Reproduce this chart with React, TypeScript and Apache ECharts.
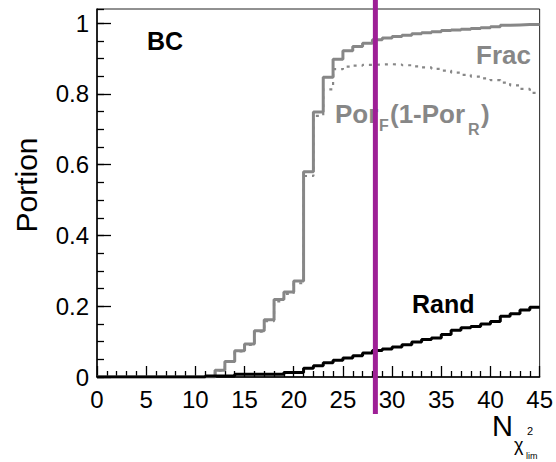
import React, { useEffect, useRef } from "react";
import * as echarts from "echarts";

// Bins are [i, i+1], i = 0..44
const BIN_COUNT = 45;
const X_MIN = 0;
const X_MAX = 45;
const Y_MIN = 0;
const Y_MAX = 1.04;
const X_TICK_STEP = 5;
const Y_TICK_STEP = 0.2;
const CUT_X = 28.3;

// "Frac" (grey solid histogram)
const fracValues = [
  0, 0, 0, 0, 0, 0, 0, 0, 0, 0, 0, 0,
  0.019, 0.044, 0.074, 0.093, 0.131, 0.162, 0.219, 0.24, 0.271,
  0.58, 0.749, 0.847, 0.898, 0.922, 0.934, 0.943, 0.953, 0.958,
  0.962, 0.966, 0.97, 0.973, 0.976, 0.979, 0.981, 0.983, 0.985,
  0.987, 0.99, 0.994, 0.995, 0.996, 0.996,
];

// "Por_F(1-Por_R)" (grey dotted histogram)
const porValues = [
  0, 0, 0, 0, 0, 0, 0, 0, 0, 0, 0, 0,
  0.018, 0.043, 0.072, 0.091, 0.128, 0.158, 0.214, 0.235, 0.265,
  0.568, 0.738, 0.813, 0.87, 0.877, 0.88, 0.882, 0.883, 0.884,
  0.883, 0.881, 0.878, 0.875, 0.871, 0.866, 0.86, 0.854, 0.849,
  0.844, 0.839, 0.832, 0.824, 0.814, 0.803,
];

// "Rand" (black histogram)
const randValues = [
  0, 0, 0, 0, 0, 0, 0, 0, 0, 0, 0,
  0.003, 0.003, 0.003, 0.008, 0.008, 0.008, 0.008, 0.008, 0.013, 0.013,
  0.025, 0.032, 0.04, 0.047, 0.054, 0.06, 0.068, 0.075, 0.079,
  0.085, 0.091, 0.099, 0.106, 0.11, 0.12, 0.132, 0.139, 0.143,
  0.15, 0.157, 0.172, 0.179, 0.189, 0.197,
];

const GREY = "#878787";
const MAGENTA = "#9e1f96";
const FONT = "'Liberation Sans', Arial, Helvetica, sans-serif";

function toSteps(values: number[]): number[][] {
  const pts = values.slice(0, BIN_COUNT).map((v, i) => [i, v]);
  pts.push([BIN_COUNT, values[BIN_COUNT - 1]]);
  return pts;
}

function txt(text: string, x: number, y: number, font: string, fill: string, extra: any = {}) {
  return {
    type: "text",
    x,
    y,
    z: 50,
    ...extra,
    style: { text, fill, font, textVerticalAlign: "middle", ...(extra.style || {}) },
  };
}

export default function App() {
  const ref = useRef<HTMLDivElement>(null);

  useEffect(() => {
    if (!ref.current) return;
    const chart = echarts.init(ref.current, null, { renderer: "svg" });

    const commonY = {
      type: "value" as const,
      min: Y_MIN,
      max: Y_MAX,
      position: "left" as const,
      splitLine: { show: false },
    };

    chart.setOption({
      animation: false,
      backgroundColor: "#ffffff",
      grid: {
        left: 97,
        right: 13,
        top: 9,
        bottom: 85,
        show: true,
        borderColor: "#222",
        borderWidth: 1,
        backgroundColor: "transparent",
      },
      xAxis: {
        type: "value",
        min: X_MIN,
        max: X_MAX,
        interval: X_TICK_STEP,
        axisLine: { show: true, onZero: false, lineStyle: { color: "#000", width: 1.5 } },
        axisTick: { show: true, inside: true, length: 11, lineStyle: { color: "#000", width: 1.3 } },
        minorTick: { show: true, splitNumber: 5, length: 6, lineStyle: { color: "#000", width: 1.3 } },
        axisLabel: { color: "#000", fontSize: 24, fontFamily: FONT, margin: 10 },
        splitLine: { show: false },
        minorSplitLine: { show: false },
      },
      yAxis: [
        {
          ...commonY,
          interval: Y_TICK_STEP,
          axisLine: { show: true, lineStyle: { color: "#000", width: 1.5 } },
          axisTick: { show: true, inside: true, length: 14, lineStyle: { color: "#000", width: 1.3 } },
          axisLabel: {
            color: "#000",
            fontSize: 24,
            fontFamily: FONT,
            margin: 8,
            showMaxLabel: false,
          },
        },
        {
          ...commonY,
          interval: 0.05,
          axisLine: { show: false },
          axisTick: { show: true, inside: true, length: 7, lineStyle: { color: "#000", width: 1.3 } },
          axisLabel: { show: false },
        },
      ],
      series: [
        {
          type: "line",
          name: "PorF(1-PorR)",
          step: "end",
          data: toSteps(porValues),
          symbol: "none",
          lineStyle: { color: GREY, width: 2.2, type: [3, 5] },
          z: 2,
        },
        {
          type: "line",
          name: "Frac",
          step: "end",
          data: toSteps(fracValues),
          symbol: "none",
          lineStyle: { color: GREY, width: 3 },
          z: 3,
        },
        {
          type: "line",
          name: "Rand",
          step: "end",
          data: toSteps(randValues),
          symbol: "none",
          lineStyle: { color: "#000", width: 3 },
          z: 4,
        },
      ],
    });

    const cutPx = chart.convertToPixel({ xAxisIndex: 0 }, CUT_X) as number;
    const big = `bold 26px ${FONT}`;
    const sub = `bold 16px ${FONT}`;

    chart.setOption({
      graphic: [
        txt("BC", 147, 41, `bold 25px ${FONT}`, "#000"),
        txt("Frac", 531, 55, `bold 26px ${FONT}`, GREY, { style: { textAlign: "right" } }),
        txt("Por", 335, 114, big, GREY),
        txt("F", 379, 125, sub, GREY),
        txt("(1-Por", 390, 114, big, GREY),
        txt("R", 468, 129, sub, GREY),
        txt(")", 481, 114, big, GREY),
        txt("Rand", 412, 304, `bold 25px ${FONT}`, "#000"),
        txt("Portion", 26, 185, `30px ${FONT}`, "#000", {
          rotation: Math.PI / 2,
          style: { textAlign: "center" },
        }),
        txt("N", 492, 426, `29px ${FONT}`, "#000"),
        txt("χ", 514, 445, `18px ${FONT}`, "#000"),
        txt("2", 527, 431, `11px ${FONT}`, "#000"),
        txt("lim", 526, 456, `9px ${FONT}`, "#000"),
        {
          type: "line",
          shape: { x1: cutPx, y1: 0, x2: cutPx, y2: 414 },
          style: { stroke: MAGENTA, lineWidth: 5 },
          z: 100,
        },
      ],
    });

    return () => chart.dispose();
  }, []);

  return (
    <div
      ref={ref}
      style={{ position: "fixed", left: 0, top: 0, width: 556, height: 462, background: "#fff" }}
    />
  );
}
